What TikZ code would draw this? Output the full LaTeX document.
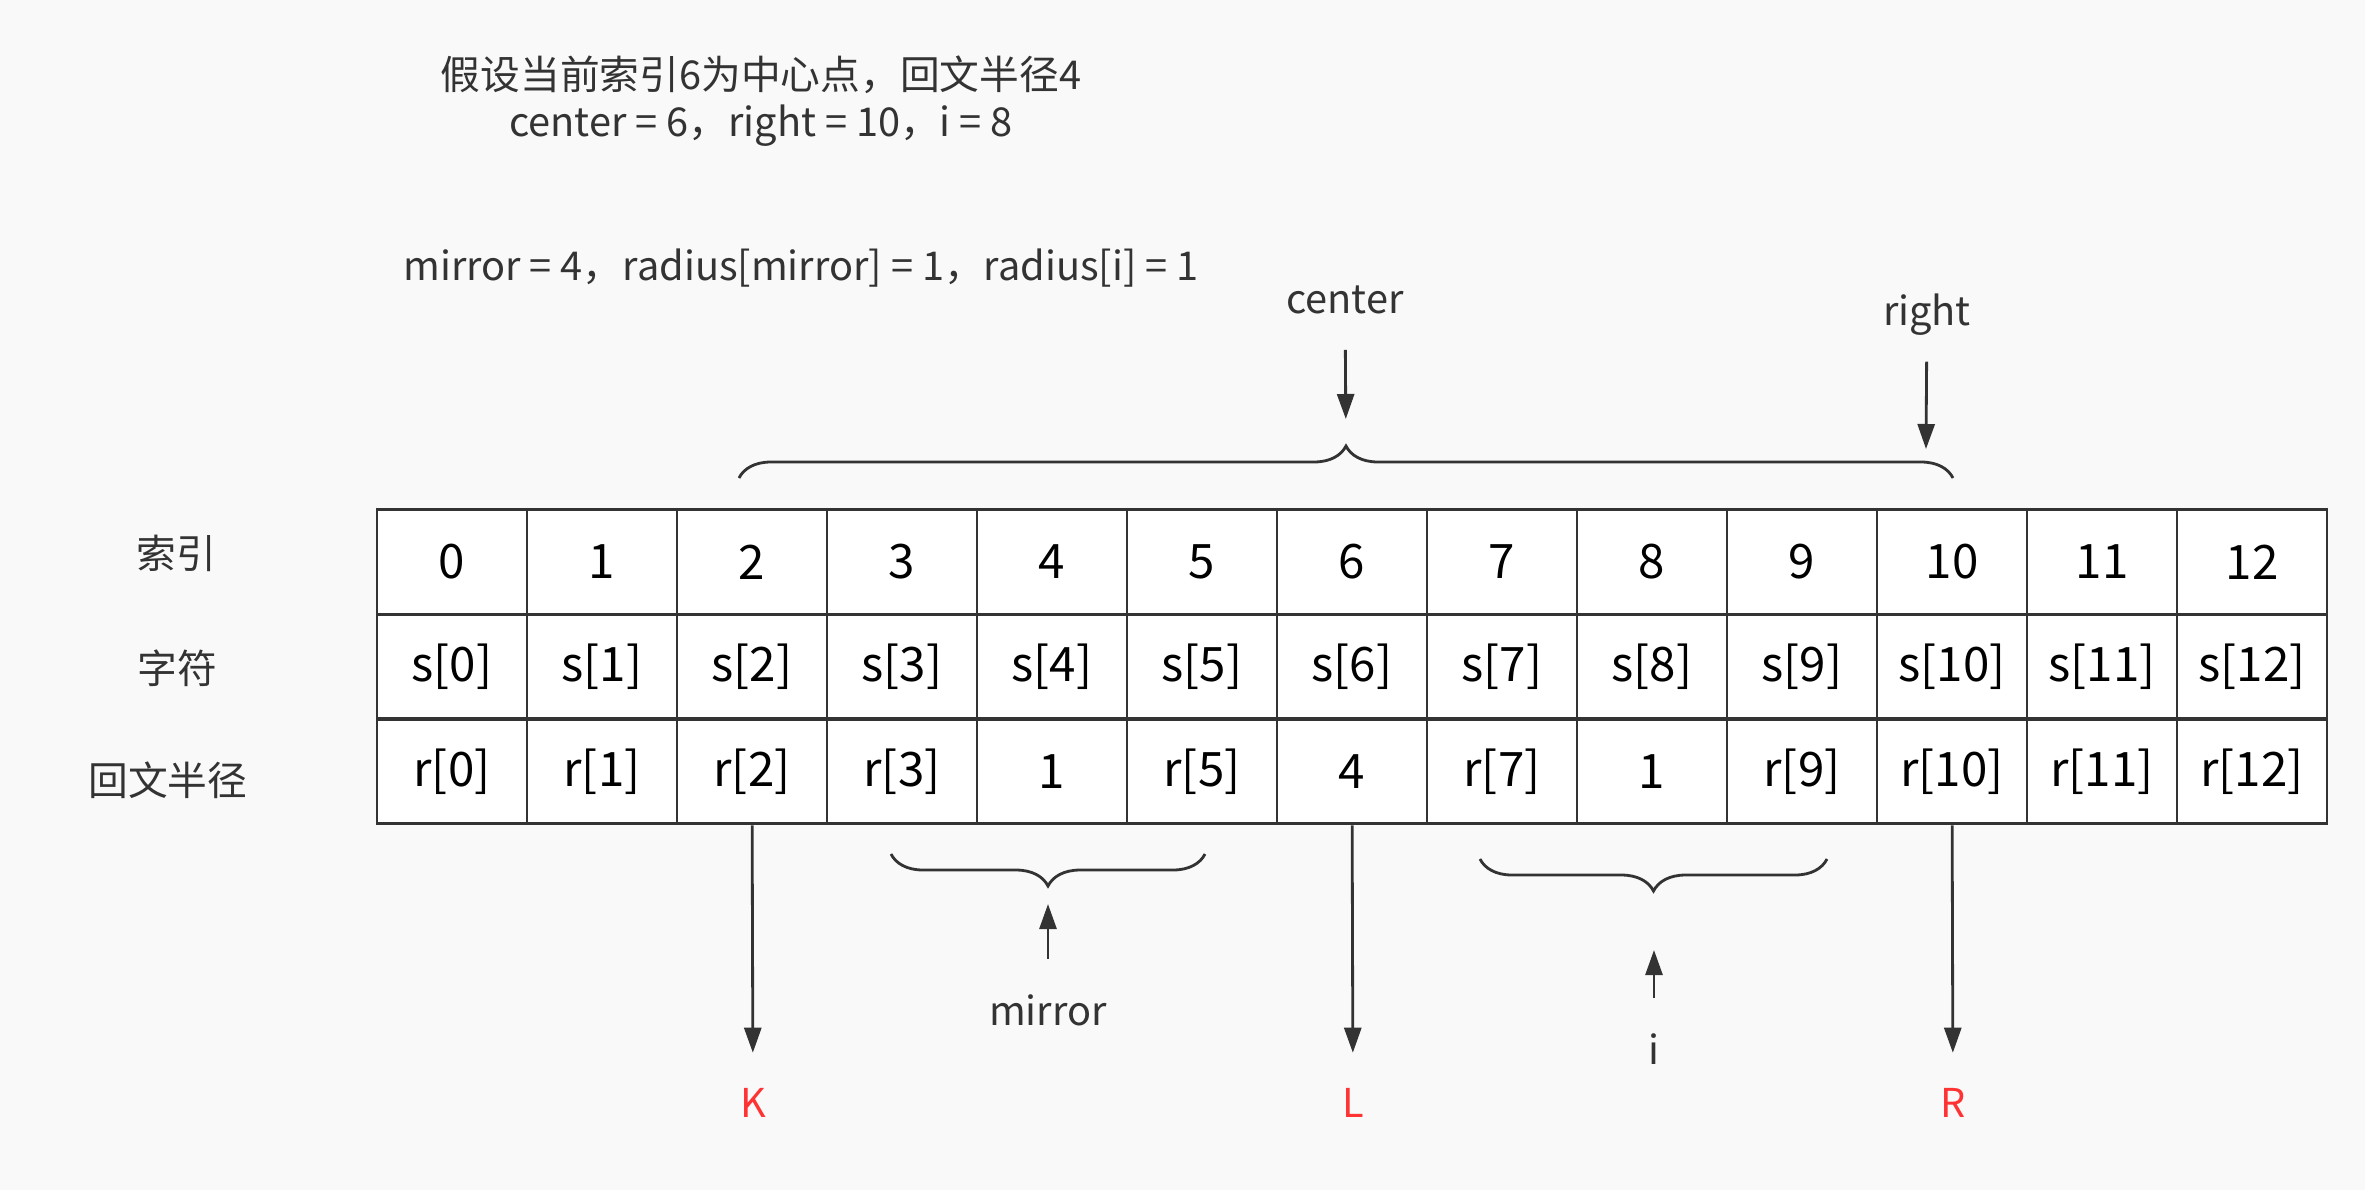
\documentclass[tikz,border=0pt]{standalone}
\usepackage{fontspec}
\setmainfont{Noto Sans CJK SC}
\usetikzlibrary{arrows.meta,decorations.pathreplacing}
\definecolor{PalInk}{HTML}{333333}
\definecolor{PalBack}{HTML}{F9F9F9}
\definecolor{PalRed}{HTML}{FF3333}
\tikzset{
  cell/.style={draw=PalInk,fill=white,line width=.8pt,minimum width=1.5cm,minimum height=1.047cm,inner sep=0pt,text=black,font=\fontsize{13.5}{16}\selectfont},
  lbl/.style={text=PalInk,inner sep=0pt,font=\fontsize{11.3}{13.5}\selectfont},
  redlbl/.style={lbl,text=PalRed},
  arr/.style={draw=PalInk,line width=.8pt,-{Triangle[length=.25cm,width=.17cm]}},
  brc/.style={draw=PalInk,line width=.8pt,decorate,decoration={brace,amplitude=.32cm}},
}
\begin{document}
\begin{tikzpicture}[x=0.01cm,y=-0.01cm]
\path[use as bounding box] (0,0) rectangle (2365,1190);
\fill[PalBack] (0,0) rectangle (2365,1190);
% notes
\node[lbl,align=center] (hint) at (761,101) {假设当前索引6为中心点，回文半径4\\center = 6，right = 10，i = 8};
\node[lbl] (mirrornote) at (801,268) {mirror = 4，radius[mirror] = 1，radius[i] = 1};
% row titles
\node[lbl] (titleidx) at (176,553) {索引};
\node[lbl] (titlechr) at (177,668) {字符};
\node[lbl] (titlerad) at (168,780) {回文半径};
% table
\foreach \r [count=\i from 0] in {r[0],r[1],r[2],r[3],1,r[5],4,r[7],1,r[9],r[10],r[11],r[12]} {
  \node[cell] (idx\i) at (452+150*\i,562) {\i};
  \node[cell] (chr\i) at (452+150*\i,666.5) {s[\i]};
  \node[cell] (rad\i) at (452+150*\i,771.5) {\r};
}
% upper braces and pointers
\draw[brc] (739,478) -- (1953,478);
\coordinate (toptip) at (1346,446);
\node[lbl] (lblcenter) at (1345,300) {center};
\node[lbl] (lblright) at (1927,315) {right};
\coordinate (righthead) at (1926,449);
\draw[arr,shorten <=.35cm,shorten >=.27cm] (lblcenter) -- (toptip);
\draw[arr,shorten <=.25cm] (lblright) -- (righthead);
% lower braces
\draw[brc,decoration={mirror}] (891,854) -- (1205,854);
\coordinate (mirrortip) at (1048,887);
\draw[brc,decoration={mirror}] (1480,859) -- (1827,859);
\coordinate (itip) at (1654,892);
\node[lbl] (lblmirror) at (1048,1010) {mirror};
\node[lbl] (lbli) at (1654,1049) {i};
\draw[arr,shorten <=.35cm,shorten >=.17cm] (lblmirror) -- (mirrortip);
\draw[arr,shorten <=.35cm,shorten >=.58cm] (lbli) -- (itip);
% K L R
\node[redlbl] (K) at (753,1103) {K};
\node[redlbl] (L) at (1353,1103) {L};
\node[redlbl] (R) at (1953,1103) {R};
\draw[arr,shorten >=.35cm] (rad2) -- (K);
\draw[arr,shorten >=.35cm] (rad6) -- (L);
\draw[arr,shorten >=.35cm] (rad10) -- (R);
\end{tikzpicture}
\end{document}
